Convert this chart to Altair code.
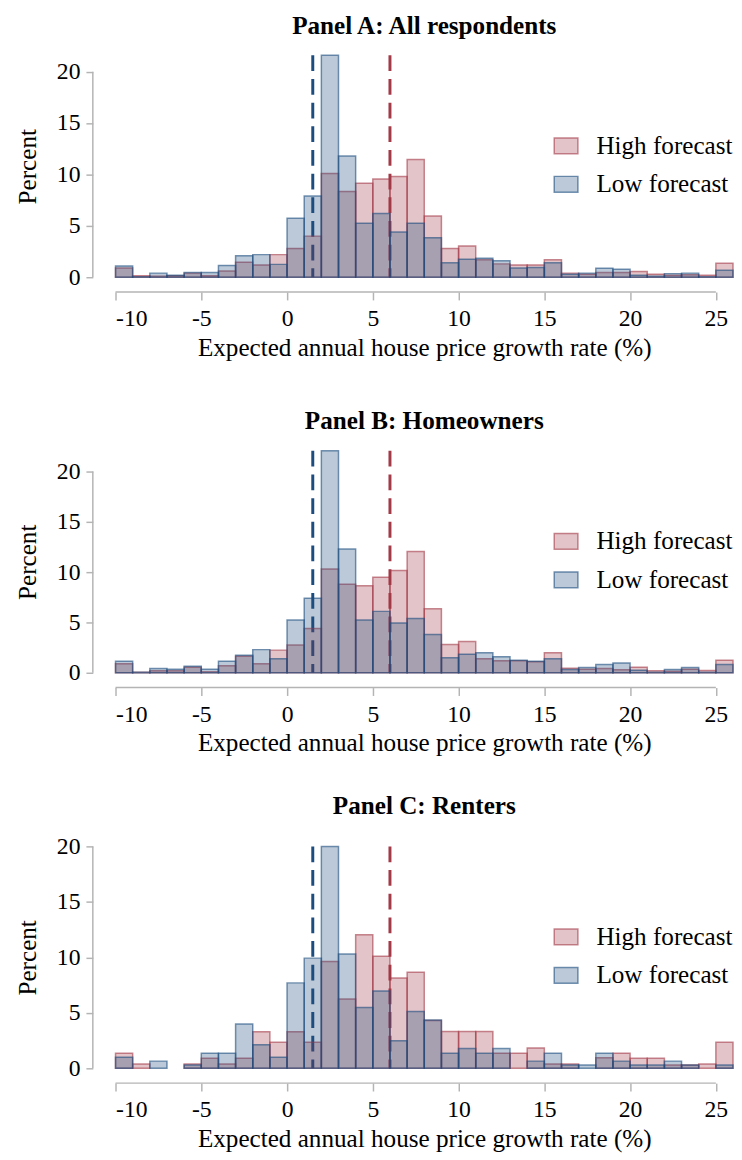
import altair as alt
import pandas as pd

# ---------------- data ----------------
bin_starts = list(range(-10, 26))          # 1-point bins from -10 to 26
groups = ["High forecast", "Low forecast"]
medians = [6.0, 1.5]                       # dashed reference lines (high, low)
x_ticks = [-10, -5, 0, 5, 10, 15, 20, 25]
y_ticks = [0, 5, 10, 15, 20]

titles = ["Panel A: All respondents", "Panel B: Homeowners", "Panel C: Renters"]

a_high = [0.9, 0.15, 0.1, 0.15, 0.4, 0.15, 0.6, 1.45, 1.2, 2.2, 2.8, 4.0,
          10.1, 8.35, 9.15, 9.55, 9.8, 11.45, 5.95, 2.8, 3.05, 1.7, 1.3, 1.2,
          1.2, 1.7, 0.4, 0.3, 0.45, 0.45, 0.55, 0.3, 0.2, 0.25, 0.2, 1.35]
a_low = [1.1, 0.05, 0.4, 0.2, 0.45, 0.45, 1.15, 2.1, 2.2, 1.25, 5.75, 7.9,
         21.6, 11.8, 5.25, 6.2, 4.4, 5.25, 3.85, 1.4, 1.75, 1.85, 1.6, 0.9,
         0.95, 1.4, 0.3, 0.4, 0.87, 0.77, 0.2, 0.1, 0.35, 0.4, 0.05, 0.67]

b_high = [0.9, 0.05, 0.2, 0.2, 0.55, 0.1, 0.7, 1.65, 0.9, 2.25, 2.75, 4.4,
          10.3, 8.8, 8.65, 9.5, 10.15, 12.05, 6.35, 2.8, 3.1, 1.4, 1.2, 1.2,
          1.1, 2.0, 0.45, 0.35, 0.42, 0.3, 0.55, 0.2, 0.15, 0.36, 0.23, 1.25]
b_low = [1.15, 0.05, 0.42, 0.35, 0.65, 0.35, 1.15, 1.75, 2.3, 1.4, 5.25, 7.4,
         22.05, 12.3, 5.25, 6.1, 4.95, 5.4, 3.8, 1.5, 1.85, 2.0, 1.6, 1.25,
         1.15, 1.4, 0.33, 0.52, 0.82, 0.98, 0.26, 0.05, 0.33, 0.52, 0.05, 0.82]

c_high = [1.36, 0.39, 0.0, 0.0, 0.39, 0.9, 0.39, 0.9, 3.3, 2.34, 3.3, 2.34,
          9.63, 6.25, 12.03, 10.1, 8.15, 8.65, 4.3, 3.32, 3.32, 3.32, 1.36, 1.36,
          1.84, 0.39, 0.39, 0.0, 0.95, 1.36, 0.9, 0.9, 0.3, 0.3, 0.39, 2.34]
c_low = [1.0, 0.0, 0.65, 0.0, 0.3, 1.36, 1.36, 4.0, 2.13, 1.0, 7.7, 9.93,
         20.0, 10.3, 5.48, 6.96, 2.49, 5.13, 4.36, 1.36, 1.78, 1.36, 1.78, 0.0,
         0.65, 1.36, 0.3, 0.3, 1.36, 0.65, 0.3, 0.3, 0.65, 0.3, 0.0, 0.3]

panels = [(titles[0], a_high, a_low), (titles[1], b_high, b_low), (titles[2], c_high, c_low)]

# ---------------- style ----------------
RED = "#a33a48"
BLUE = "#1d4d7e"
RED_FILL, BLUE_FILL = "rgba(163,58,72,0.3)", "rgba(29,77,126,0.3)"
RED_LINE, BLUE_LINE = "rgba(163,58,72,0.6)", "rgba(29,77,126,0.6)"
AXC = "#b4b4b4"
FONT = "Times New Roman, Liberation Serif, DejaVu Serif, serif"
W, H = 626, 225
XOFF, YOFF = 15, 23


def make_panel(title, high, low):
    n = len(bin_starts)
    df = pd.DataFrame({
        "start": bin_starts * 2,
        "end": [b + 1 for b in bin_starts] * 2,
        "pct": high + low,
        "group": [groups[0]] * n + [groups[1]] * n,
    })
    df = df[df["pct"] > 0]
    ymax = max(high + low)

    xscale = alt.Scale(domain=[bin_starts[0], bin_starts[-1] + 1], nice=False, zero=False)
    yscale = alt.Scale(domain=[0, ymax], nice=False)

    leg = alt.Legend(title=None, orient="none", legendX=444, legendY=79,
                     symbolType="M-1.5,-1H1.5V1H-1.5Z", symbolSize=256,
                     symbolStrokeWidth=1.5, labelFont=FONT, labelFontSize=25.5,
                     labelColor="black", rowPadding=12, labelOffset=18, padding=0)

    bars = alt.Chart(df).mark_rect(strokeWidth=1.5).encode(
        x=alt.X("start:Q", scale=xscale,
                axis=alt.Axis(values=x_ticks, offset=XOFF, domain=False, tickSize=8,
                              labelPadding=7, titlePadding=5, labelExpr="'' + datum.value"),
                title="Expected annual house price growth rate (%)"),
        x2="end:Q",
        y=alt.Y("pct:Q", scale=yscale, stack=None,
                axis=alt.Axis(values=y_ticks, offset=YOFF, domain=False, tickSize=7,
                              labelPadding=6, titlePadding=16),
                title="Percent"),
        y2=alt.datum(0),
        color=alt.Color("group:N", scale=alt.Scale(domain=groups, range=[RED_FILL, BLUE_FILL]), legend=leg),
        stroke=alt.Stroke("group:N", scale=alt.Scale(domain=groups, range=[RED_LINE, BLUE_LINE]), legend=leg),
    )

    rule_layers = []
    for g, m, col in zip(groups, medians, [RED, BLUE]):
        mdf = pd.DataFrame({"m": [m], "group": [g]})
        rule_layers.append(
            alt.Chart(mdf).mark_rule(strokeDash=[16, 8], strokeWidth=3, color=col).encode(
                x=alt.X("m:Q", scale=xscale))
        )

    one = pd.DataFrame({"k": [0]})
    xline = alt.Chart(one).mark_rule(color=AXC, strokeWidth=1.5).encode(
        x=alt.datum(x_ticks[0]), x2=alt.datum(x_ticks[-1]), y=alt.value(H + XOFF))
    yline = alt.Chart(one).mark_rule(color=AXC, strokeWidth=1.5).encode(
        y=alt.datum(y_ticks[0]), y2=alt.datum(y_ticks[-1]), x=alt.value(-YOFF))

    return alt.layer(*rule_layers, bars, xline, yline).properties(
        width=W, height=H,
        title=alt.TitleParams(title, fontSize=25.5, fontWeight="bold", font=FONT,
                              anchor="middle", baseline="alphabetic", offset=-5, color="black"),
    )


charts = [make_panel(t, h, l) for t, h, l in panels]

chart = alt.vconcat(*charts, spacing=176, bounds="flush").resolve_scale(
    color="independent", stroke="independent",
).resolve_legend(
    color="independent", stroke="independent",
).properties(
    padding={"left": 8, "top": -2, "right": 0, "bottom": 0},
    background="white",
).configure_axis(
    labelFont=FONT, titleFont=FONT, labelFontSize=24, titleFontSize=25.5,
    labelColor="black", titleColor="black", titleFontWeight="normal",
    tickColor=AXC, tickWidth=1.5, grid=False,
).configure_view(stroke=None)

chart.save("out.html", embed_options={"renderer": "svg", "actions": False})
